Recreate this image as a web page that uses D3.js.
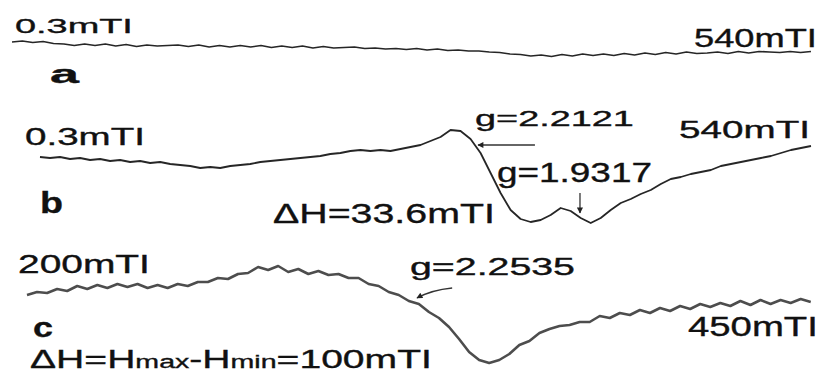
<!DOCTYPE html>
<html>
  <head>
    <title>EPR spectra a, b, c</title>
    <style>
      body,
      html {
        margin: 0;
        padding: 0;
        background: #fff;
      }
      text {
        font-family: 'Liberation Sans', Arial, sans-serif;
        fill: #111;
        stroke: #111;
        stroke-width: 0.35;
      }
    </style>
  </head>
  <body>
    <svg id="svg" width="825" height="372"></svg>
    <script src="https://cdn.jsdelivr.net/npm/d3@7"></script>
    <script>
      // field sweeps (mT), one point per 7 mT for a and b, 3.2 mT for c
      const fieldA = d3.range(78).map((i) => 0.3 + i * 7);
      const fieldB = d3.range(78).map((i) => 0.3 + i * 7);
      const fieldC = d3.range(79).map((i) => 200 + i * 3.2);

      // signal (arbitrary units)
      const signalA = [
        6, 7, 5.5, 6.5, 4.5, 4, 2.5, 4, 2.5, 4, 2, 3.5, 1.5, 3, 2, 2.5, 3, 1.5,
        3, 1, 2.5, 1, 2.5, 1, 2.5, 0.5, 2, 0.5, 2, 0, 1.5, 0, 0.5, 1, -0.5, 0,
        -1, -0.5, -1.5, -0.5, -2, -1, -2.5, -2, -3, -3, -4, -4.5, -6, -6.5, -8,
        -7, -8.5, -6.5, -8, -6, -7.5, -6, -7.5, -5.5, -7, -5, -6.5, -4.5, -6,
        -4, -5.5, -5, -4, -5.5, -3.5, -5, -3.5, -4, -4.5, -3.5, -4.5, -3.5
      ];
      const signalB = [
        3, 2, 3, 1, 2, 0, 1, -1, 0, -2, -1, -3, -2, -4, -5, -6, -8, -7, -8, -6,
        -5, -4, -2, -1, 0, 1, 2, 3, 4, 6, 7, 9, 10, 9, 10, 9, 11, 13, 15, 19,
        23, 30, 29, 21, 7, -13, -33, -50, -59, -62, -60, -55, -48, -51, -58,
        -63, -58, -50, -43, -39, -34, -30, -24, -19, -17, -14, -12, -10, -6, -4,
        -2, 0, 2, 4, 7, 10, 12, 14
      ];
      const signalC = [
        5, 8, 7, 11, 9, 14, 11, 15, 12, 16, 13, 16, 12, 15, 12, 16, 14, 18, 18,
        22, 21, 26, 27, 33, 30, 34, 28, 31, 26, 29, 25, 26, 22, 22, 16, 14, 8,
        5, -1, -4, -12, -18, -27, -39, -52, -60, -63, -60, -54, -45, -41, -33,
        -29, -26, -25, -22, -22, -16, -18, -13, -15, -10, -13, -8, -11, -6, -9,
        -4, -7, -3, -6, -1, -5, 0, -4, 0, -3, 1, -2
      ];

      const panelLabels = ['a', 'b', 'c'];
      const gValues = ['g=2.2121', 'g=1.9317', 'g=2.2535'];

      const svg = d3.select('#svg');

      const panels = [
        {
          field: fieldA,
          signal: signalA,
          x: d3.scaleLinear().domain([0.3, 540]).range([12, 812]),
          y: d3.scaleLinear().domain([-50, 50]).range([98, -2]),
          stroke: '#262626',
          width: 1.6
        },
        {
          field: fieldB,
          signal: signalB,
          x: d3.scaleLinear().domain([0.3, 540]).range([40, 812]),
          y: d3.scaleLinear().domain([-80, 80]).range([240, 80]),
          stroke: '#262626',
          width: 1.8
        },
        {
          field: fieldC,
          signal: signalC,
          x: d3.scaleLinear().domain([200, 450]).range([27, 812]),
          y: d3.scaleLinear().domain([-80, 80]).range([380, 220]),
          stroke: '#4d4d4d',
          width: 2.6
        }
      ];

      panels.forEach((p) => {
        const line = d3
          .line()
          .x((d, i) => p.x(p.field[i]))
          .y((d) => p.y(d));
        svg
          .append('path')
          .datum(p.signal)
          .attr('d', line)
          .attr('fill', 'none')
          .attr('stroke', p.stroke)
          .attr('stroke-width', p.width)
          .attr('stroke-linejoin', 'round');
      });

      // arrows (tail -> tip, in field / signal units)
      const defs = svg.append('defs');
      defs
        .append('marker')
        .attr('id', 'head')
        .attr('viewBox', '0 0 10 10')
        .attr('refX', 9)
        .attr('refY', 5)
        .attr('markerWidth', 9)
        .attr('markerHeight', 6)
        .attr('markerUnits', 'userSpaceOnUse')
        .attr('orient', 'auto')
        .append('path')
        .attr('d', 'M0,0L10,5L0,10z')
        .attr('fill', '#222');

      const arrows = [
        { p: 1, from: [346.3, 15], to: [306.5, 15], bend: 0 },
        { p: 1, from: [377.8, -33], to: [377.8, -53], bend: 0 },
        { p: 2, from: [335.4, 12], to: [324.2, 2], bend: 3 }
      ];
      arrows.forEach((a) => {
        const p = panels[a.p];
        const x1 = p.x(a.from[0]);
        const y1 = p.y(a.from[1]);
        const x2 = p.x(a.to[0]);
        const y2 = p.y(a.to[1]);
        const mx = (x1 + x2) / 2 - a.bend;
        const my = (y1 + y2) / 2 - a.bend;
        svg
          .append('path')
          .attr('d', `M${x1},${y1}Q${mx},${my} ${x2},${y2}`)
          .attr('fill', 'none')
          .attr('stroke', '#333')
          .attr('stroke-width', 1.3)
          .attr('marker-end', 'url(#head)');
      });

      // labels: text, left x, baseline y, target width, font size, bold
      const labels = [
        ['0.3mTI', 15, 33, 118, 21],
        ['540mTI', 694, 47, 123, 25],
        [panelLabels[0], 50, 83, 30, 26, true],
        ['0.3mTI', 25, 145, 120, 24],
        [panelLabels[1], 40, 213, 23, 30, true],
        [gValues[0], 475, 126, 159, 22],
        ['540mTI', 679, 138, 131, 24],
        [gValues[1], 497, 182, 155, 27],
        ['ΔH=33.6mTI', 273, 223, 222, 28],
        ['200mTI', 18, 273, 132, 25],
        [panelLabels[2], 33, 337, 20, 28, true],
        [gValues[2], 410, 275, 165, 23],
        ['450mTI', 688, 336, 130, 27]
      ];

      function fitText(t, x, y, w) {
        const bw = t.node().getBBox().width;
        t.attr('transform', `translate(${x},${y}) scale(${w / bw},1)`);
      }

      labels.forEach(([s, x, y, w, size, bold]) => {
        const t = svg
          .append('text')
          .attr('font-size', size)
          .attr('font-weight', bold ? 'bold' : 'normal')
          .text(s);
        fitText(t, x, y, w);
      });

      // ΔH=Hmax-Hmin=100mTI with small max/min
      const dh = svg.append('text').attr('font-size', 26);
      dh.append('tspan').text('ΔH=H');
      dh.append('tspan').attr('font-size', 19).text('max');
      dh.append('tspan').text('-H');
      dh.append('tspan').attr('font-size', 19).text('min');
      dh.append('tspan').text('=100mTI');
      fitText(dh, 30, 368, 402);
    </script>
  </body>
</html>
